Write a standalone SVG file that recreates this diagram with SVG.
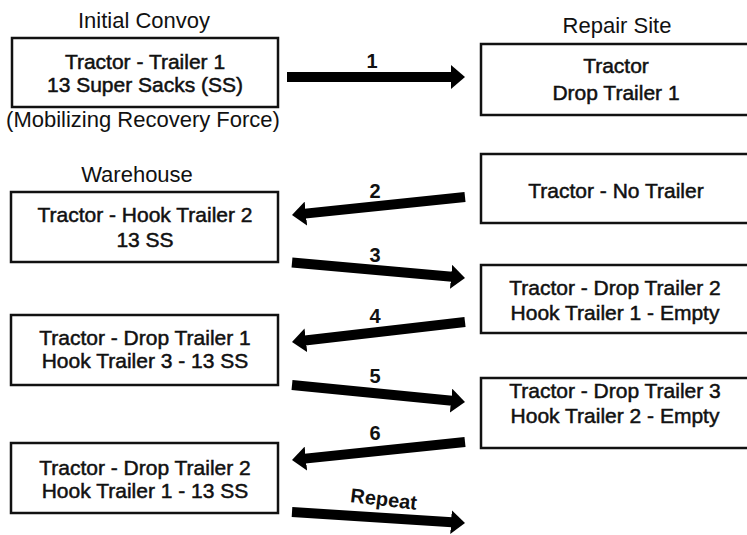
<svg xmlns="http://www.w3.org/2000/svg" width="747" height="535" viewBox="0 0 747 535">
<style>
  .box { fill: #fff; stroke: #111; stroke-width: 2.5; }
  .t { font-family: "Liberation Sans", Arial, sans-serif; font-size: 21px; fill: #111; stroke: #111; stroke-width: 0.5; text-anchor: middle; }
  .title { font-family: "Liberation Sans", Arial, sans-serif; font-size: 22px; fill: #111; text-anchor: middle; }
  .lbl { font-family: "Liberation Sans", Arial, sans-serif; font-size: 20px; font-weight: bold; fill: #111; text-anchor: middle; }
  .arr { stroke: #000; stroke-width: 10; fill: none; marker-end: url(#ah); }
</style>
<defs>
  <marker id="ah" markerUnits="userSpaceOnUse" viewBox="-1 -12 14 24" markerWidth="14" markerHeight="24" refX="0" refY="0" orient="auto">
    <path d="M-1,-12 L13,0 L-1,12 Z" fill="#000"/>
  </marker>
</defs>
<rect width="747" height="535" fill="#fff"/>

<g id="titles">
  <text class="title" x="144" y="28">Initial Convoy</text>
  <text class="title" x="617" y="33">Repair Site</text>
  <text class="title" x="137" y="182">Warehouse</text>
  <text class="title" x="143" y="127">(Mobilizing Recovery Force)</text>
</g>

<g id="node-convoy">
  <rect class="box" x="12" y="38" width="266" height="69"/>
  <text class="t" x="145" y="69">Tractor - Trailer 1</text>
  <text class="t" x="145" y="92">13 Super Sacks (SS)</text>
</g>
<g id="node-w1">
  <rect class="box" x="11" y="192" width="267" height="70"/>
  <text class="t" x="145" y="222">Tractor - Hook Trailer 2</text>
  <text class="t" x="145" y="247">13 SS</text>
</g>
<g id="node-w2">
  <rect class="box" x="11" y="315" width="267" height="70"/>
  <text class="t" x="145" y="345">Tractor - Drop Trailer 1</text>
  <text class="t" x="145" y="368">Hook Trailer 3 - 13 SS</text>
</g>
<g id="node-w3">
  <rect class="box" x="11" y="443" width="267" height="70"/>
  <text class="t" x="145" y="475">Tractor - Drop Trailer 2</text>
  <text class="t" x="145" y="498">Hook Trailer 1 - 13 SS</text>
</g>

<g id="node-r1">
  <rect class="box" x="481" y="44" width="290" height="71"/>
  <text class="t" x="616" y="73">Tractor</text>
  <text class="t" x="616" y="100">Drop Trailer 1</text>
</g>
<g id="node-r2">
  <rect class="box" x="481" y="154" width="290" height="69"/>
  <text class="t" x="616" y="198">Tractor - No Trailer</text>
</g>
<g id="node-r3">
  <rect class="box" x="481" y="265" width="290" height="68"/>
  <text class="t" x="615" y="295">Tractor - Drop Trailer 2</text>
  <text class="t" x="615" y="320">Hook Trailer 1 - Empty</text>
</g>
<g id="node-r4">
  <rect class="box" x="481" y="378" width="290" height="70"/>
  <text class="t" x="615" y="398">Tractor - Drop Trailer 3</text>
  <text class="t" x="615" y="423">Hook Trailer 2 - Empty</text>
</g>

<g id="connectors">
  <line class="arr" x1="287" y1="77" x2="452" y2="77"/>
  <line class="arr" x1="465" y1="197" x2="304.9" y2="213.65"/>
  <line class="arr" x1="292" y1="262.5" x2="452.05" y2="276.84"/>
  <line class="arr" x1="465" y1="322" x2="304.9" y2="340.5"/>
  <line class="arr" x1="292" y1="385" x2="452.06" y2="400.73"/>
  <line class="arr" x1="465" y1="442" x2="304.9" y2="458.65"/>
  <line class="arr" x1="292" y1="512" x2="452.03" y2="522.17"/>
  <text class="lbl" x="372" y="68">1</text>
  <text class="lbl" x="375" y="198">2</text>
  <text class="lbl" x="375" y="262">3</text>
  <text class="lbl" x="375" y="323">4</text>
  <text class="lbl" x="375" y="383">5</text>
  <text class="lbl" x="375" y="440">6</text>
  <text class="lbl" x="383" y="506" transform="rotate(6.7 383 506)">Repeat</text>
</g>
</svg>
